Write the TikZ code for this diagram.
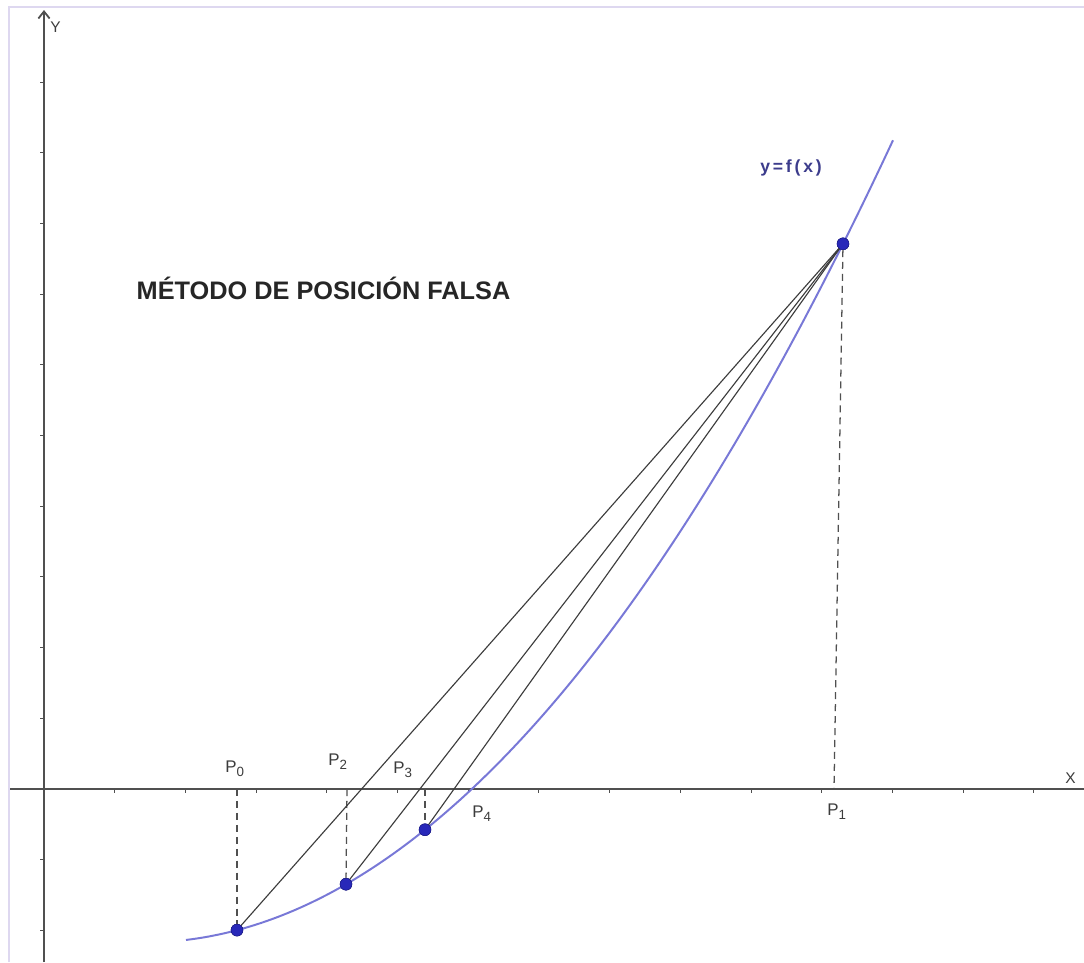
\documentclass[tikz,border=0pt]{standalone}
\usepackage{fontspec}
\setmainfont{Liberation Sans}
\usetikzlibrary{arrows.meta}
\definecolor{axisgray}{RGB}{80,80,80}
\definecolor{secgray}{RGB}{60,60,60}
\definecolor{curveblue}{RGB}{120,120,215}
\definecolor{ptblue}{RGB}{40,40,185}
\definecolor{labgray}{RGB}{60,60,60}
\definecolor{fblue}{RGB}{60,60,140}
\definecolor{frame}{RGB}{222,216,240}
\newcommand{\psub}[1]{P\raisebox{-0.45ex}{\fontsize{9.5}{11}\selectfont #1}}
\tikzset{
  axisline/.style={draw=axisgray, line width=1.3pt},
  tickline/.style={draw=axisgray, line width=0.7pt},
  secant/.style={draw=secgray, line width=0.8pt},
  curve/.style={draw=curveblue, line width=1.4pt},
  proj/.style={draw=axisgray, line width=0.9pt, dash pattern=on 5pt off 3.5pt},
  pt/.style={circle, fill=ptblue, draw=ptblue!70!black, line width=0.3pt, inner sep=0pt, minimum size=8.5pt},
  plabel/.style={text=labgray, font=\fontsize{12}{14}\selectfont, inner sep=0pt},
  axlabel/.style={text=labgray, font=\fontsize{11}{13}\selectfont, inner sep=0pt},
}
\begin{document}
\begin{tikzpicture}[x=0.025cm, y=-0.025cm]
\useasboundingbox (0,0) rectangle (1084,962);
\fill[white] (0,0) rectangle (1084,962);
% frame lines
\draw[frame, line width=1.2pt] (9,962) -- (9,7) -- (1084,7);
% axes
\coordinate (xs) at (10,789);
\coordinate (xe) at (1084,789);
\coordinate (ys) at (44,962);
\coordinate (ye) at (44,10);
\draw[axisline] (xs) -- (xe);
\draw[axisline, -{Straight Barb[length=5pt,width=8pt]}] (ys) -- (ye);
% ticks
\foreach \k in {1,...,14} \draw[tickline] ({44+70.7*\k},789) -- ({44+70.7*\k},792.5);
\foreach \k in {-2,-1,1,2,3,4,5,6,7,8,9,10} \draw[tickline] (44,{789-70.7*\k}) -- (40,{789-70.7*\k});
\node[axlabel, anchor=base west] (lx) at (1065,783) {X};
\node[axlabel, anchor=base west] (ly) at (50,32) {Y};
% curve
\draw[curve] plot[domain=186:893, samples=120, smooth] (\x, {942.4-1431.4*((\x-144.4)/1000)^2});
% points on curve
\node[pt] (p0) at (237,930.1) {};
\node[pt] (p2) at (346,884.2) {};
\node[pt] (p3) at (425,829.7) {};
\node[pt] (p1) at (843,243.8) {};
% feet on axis
\coordinate (f0) at (237,789);
\coordinate (f2) at (347,789);
\coordinate (f3) at (425,789);
\coordinate (f1) at (834,789);
% projections
\draw[proj] (f0) -- (p0);
\draw[proj] (f2) -- (p2);
\draw[proj] (f3) -- (p3);
\draw[proj] (p1) -- (f1);
% secants
\draw[secant] (p0.center) -- (p1.center);
\draw[secant] (p2.center) -- (p1.center);
\draw[secant] (p3.center) -- (p1.center);
% redraw points on top
\node[pt] at (p0) {};
\node[pt] at (p2) {};
\node[pt] at (p3) {};
\node[pt] at (p1) {};
% labels
\node[plabel, anchor=base west] (l0) at (225,772) {\psub{0}};
\node[plabel, anchor=base west] (l2) at (328,765) {\psub{2}};
\node[plabel, anchor=base west] (l3) at (393,773) {\psub{3}};
\node[plabel, anchor=base west] (l4) at (472,817) {\psub{4}};
\node[plabel, anchor=base west] (l1) at (827,815) {\psub{1}};
\node[text=fblue, font=\bfseries\fontsize{12.5}{14}\selectfont, anchor=base west, inner sep=0pt] (lf) at (760,172) {y\hspace{2pt}=\hspace{2pt}f\hspace{2pt}(\hspace{2pt}x\hspace{2pt})};
\node[font=\bfseries\fontsize{18}{21}\selectfont, text=black!85, anchor=base, inner sep=0pt] (title) at (323.5,299) {MÉTODO DE POSICIÓN FALSA};
\end{tikzpicture}
\end{document}
